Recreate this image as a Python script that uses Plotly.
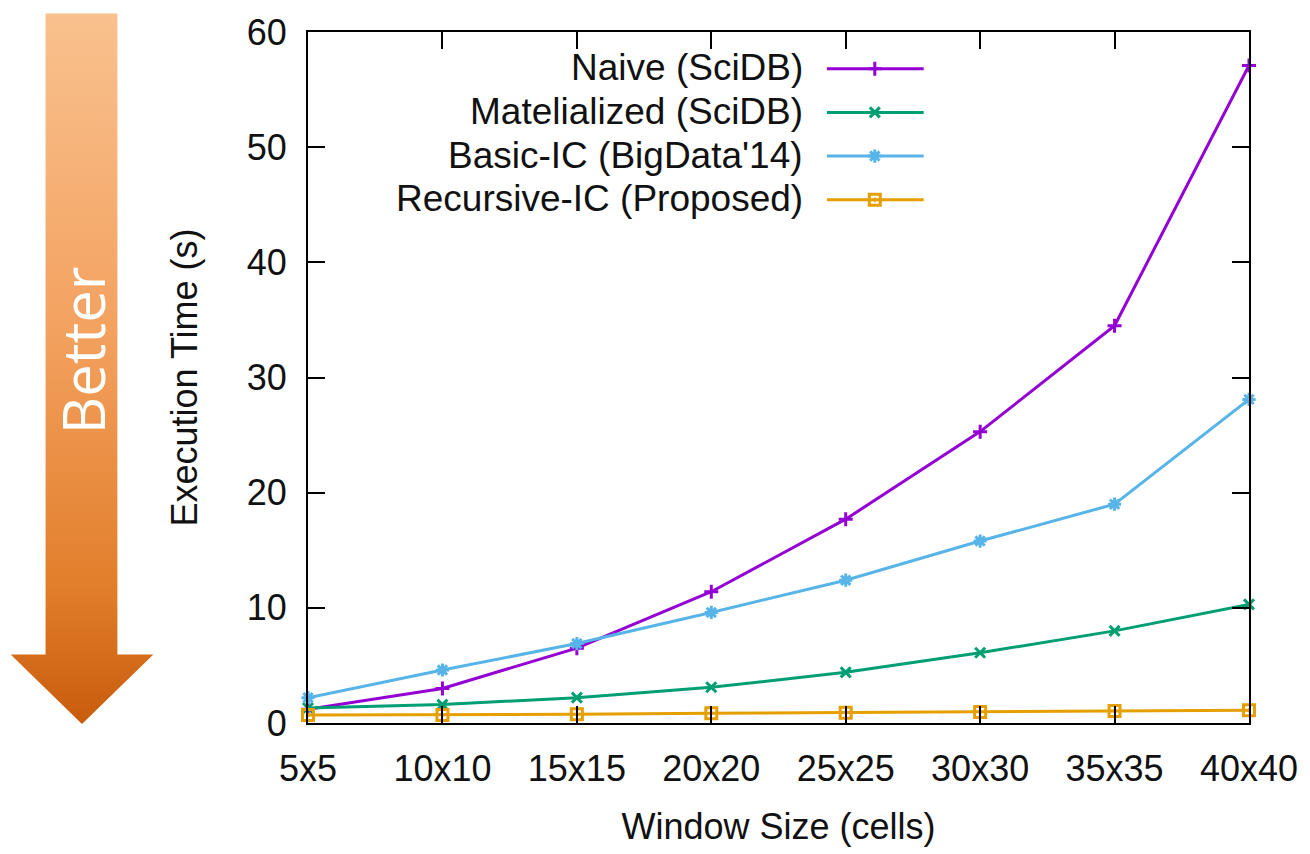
import base64
import plotly.graph_objects as go

# ---- data -------------------------------------------------------------
window_sizes = ["5x5", "10x10", "15x15", "20x20", "25x25", "30x30", "35x35", "40x40"]
naive_scidb = [1.2, 3.0, 6.5, 11.4, 17.7, 25.3, 34.5, 57.1]
materialized_scidb = [1.3, 1.6, 2.2, 3.1, 4.4, 6.1, 8.0, 10.3]
basic_ic = [2.2, 4.6, 6.9, 9.6, 12.4, 15.8, 19.0, 28.1]
recursive_ic = [0.7, 0.7, 0.75, 0.85, 0.9, 0.95, 1.05, 1.1]
y_ticks = [0, 10, 20, 30, 40, 50, 60]

series = [
    ("Naive (SciDB)", naive_scidb, "#9400D3", "cross-thin-open", 10),
    ("Matelialized (SciDB)", materialized_scidb, "#009E73", "x-thin-open", 10),
    ("Basic-IC (BigData'14)", basic_ic, "#56B4E9", "asterisk-open", 11),
    ("Recursive-IC (Proposed)", recursive_ic, "#E69F00", "square-open-dot", 11),
]

# ---- geometry (pixels) --------------------------------------------------
W, H = 1310, 854
PL, PR, PT, PB = 308, 1251, 27, 723
FONT = "Liberation Sans, Arial, sans-serif"
FS = 36
LEG_FS = 37


def px(x):
    return (x - PL) / (PR - PL)


def py(y):
    return (PB - y) / (PB - PT)


xs = list(range(len(window_sizes)))

fig = go.Figure()
for name, vals, color, sym, size in series:
    fig.add_trace(go.Scatter(
        x=xs, y=vals, mode="lines+markers", name=name, showlegend=False,
        line=dict(color=color, width=3),
        marker=dict(symbol=sym, size=size, color=color,
                    line=dict(color=color, width=3)),
        cliponaxis=False,
    ))

# legend drawn on a pixel-mapped overlay axis so text sits left of the samples
leg_rows = [64, 108, 152, 196]
for (name, vals, color, sym, size), ry in zip(series, leg_rows):
    fig.add_shape(type="line", xref="x2", yref="y2", x0=828, x1=925, y0=ry, y1=ry,
                  line=dict(color=color, width=3))
    fig.add_trace(go.Scatter(
        x=[876], y=[ry], xaxis="x2", yaxis="y2", mode="markers", showlegend=False,
        marker=dict(symbol=sym, size=size, color=color, line=dict(color=color, width=3)),
        cliponaxis=False, hoverinfo="skip"))
    fig.add_annotation(xref="x2", yref="y2", x=806, y=ry - 1, text=name, showarrow=False,
                       xanchor="right", yanchor="middle",
                       font=dict(family=FONT, size=LEG_FS, color="#111111"))

# orange gradient "Better" arrow
ax0, ax1, ay0, ay1 = 10, 153, 8, 724
aw, ah = ax1 - ax0, ay1 - ay0
svg = f"""<svg xmlns='http://www.w3.org/2000/svg' width='{aw}' height='{ah}' viewBox='0 0 {aw} {ah}' preserveAspectRatio='none'>
<defs><linearGradient id='g' x1='0' y1='0' x2='0' y2='1'>
<stop offset='0' stop-color='#F9C18E'/>
<stop offset='0.45' stop-color='#F3A15F'/>
<stop offset='0.8' stop-color='#E27F2C'/>
<stop offset='1' stop-color='#C85C0C'/>
</linearGradient></defs>
<polygon points='35,0 107,0 107,646 {aw},646 {aw/2},{ah} 0,646 35,646' fill='url(#g)'/>
</svg>"""
src = "data:image/svg+xml;base64," + base64.b64encode(svg.encode()).decode()
fig.add_layout_image(dict(source=src, xref="paper", yref="paper", x=px(ax0), y=py(ay0),
                          sizex=aw / (PR - PL), sizey=ah / (PB - PT),
                          xanchor="left", yanchor="top",
                          sizing="stretch", layer="above"))
fig.add_annotation(xref="paper", yref="paper", x=px(82), y=py(347), text="Better",
                   showarrow=False, textangle=-90, xanchor="center", yanchor="middle",
                   font=dict(family="Open Sans, sans-serif", size=58, color="white"))

axis_common = dict(showline=True, linecolor="black", linewidth=2, mirror="allticks",
                   ticks="inside", ticklen=17, tickwidth=2, tickcolor="black",
                   showgrid=False, zeroline=False,
                   tickfont=dict(family=FONT, size=FS, color="#111111"))

fig.update_layout(
    width=W, height=H,
    margin=dict(l=PL, r=W - PR, t=PT, b=H - PB),
    paper_bgcolor="white", plot_bgcolor="white",
    showlegend=False,
    xaxis=dict(range=[0, len(window_sizes) - 1], tickvals=xs, ticktext=window_sizes,
               ticklabelstandoff=13,
               title=dict(text="Window Size (cells)", standoff=26,
                          font=dict(family=FONT, size=FS, color="#111111")),
               **axis_common),
    yaxis=dict(range=[0, 60], tickvals=y_ticks, ticklabelstandoff=12,
               title=dict(text="Execution Time (s)", standoff=38,
                          font=dict(family=FONT, size=FS, color="#111111")),
               **axis_common),
    xaxis2=dict(range=[PL, PR], overlaying="x", visible=False, fixedrange=True),
    yaxis2=dict(range=[PB, PT], overlaying="y", visible=False, fixedrange=True),
)

fig.write_html("out.html")
